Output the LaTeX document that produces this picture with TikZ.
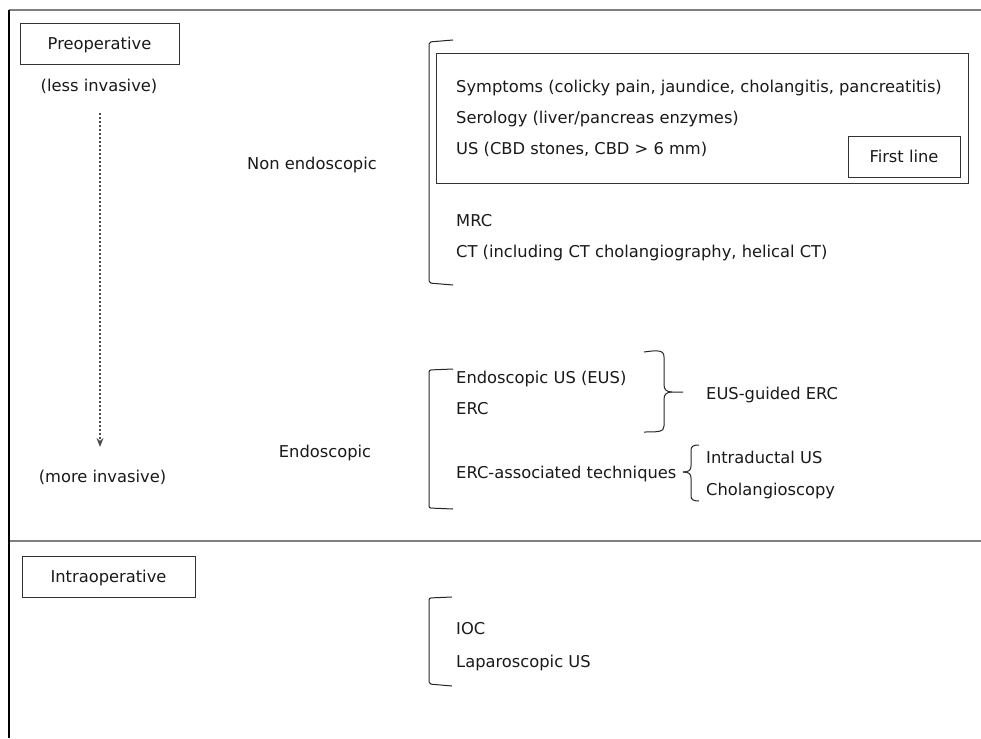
\documentclass[tikz,border=0pt]{standalone}
\usepackage{fontspec}
\setmainfont{DejaVu Sans}
\usetikzlibrary{arrows.meta}
\begin{document}
\begin{tikzpicture}[x=1pt,y=-1pt,
  every node/.style={font=\fontsize{16.3}{19}\selectfont, text=black!90},
  lbl/.style={anchor=west, inner sep=0pt, text height=12pt, text depth=0pt},
  ctr/.style={inner sep=0pt, text height=12pt, text depth=0pt},
  tag/.style={draw=black!80, line width=0.9pt, inner sep=0pt, text height=12pt, text depth=0pt},
  frameline/.style={draw=black!50, line width=1.6pt},
  brk/.style={draw=black!85, line width=1pt, rounded corners=2pt},
  brc/.style={draw=black!85, line width=1pt},
]
\useasboundingbox (0,0) rectangle (981,738);

% frame
\coordinate (ftl) at (9,10);
\coordinate (ftr) at (981,10);
\coordinate (fbl) at (9,738);
\coordinate (fml) at (9,541);
\coordinate (fmr) at (981,541);
\draw[frameline] (ftl) -- (ftr);
\draw[frameline] (fml) -- (fmr);
\draw[draw=black, line width=1.6pt] (ftl) -- (fbl);

% left column
\node[tag, minimum width=159pt, minimum height=41pt] (pre) at (99.5,43.5) {Preoperative};
\node[ctr] (less) at (99,86) {(less invasive)};
\node[ctr] (more) at (102.5,476) {(more invasive)};
\coordinate (a1) at (100,113);
\coordinate (a2) at (100,447);
\draw[draw=black!70, line width=1.3pt, dash pattern=on 2pt off 2pt, -{Stealth[length=9pt,width=7pt]}] (a1) -- (a2);
\node[tag, minimum width=173pt, minimum height=41pt] (intra) at (108.5,576.5) {Intraoperative};

% categories
\node[ctr] (nonendo) at (312,163) {Non endoscopic};
\node[ctr] (endo) at (325,451) {Endoscopic};

% brackets
\draw[brk] (453,40) -- (429,42) -- (429,283) -- (453,285);
\draw[brk] (453,369) -- (429,370) -- (429,508) -- (453,509);
\draw[brk] (452,597) -- (429,598) -- (429,684) -- (452,686);

% first line box
\node[draw=black!80, line width=0.9pt, minimum width=532pt, minimum height=130pt, inner sep=0pt] (flbox) at (702,118) {};
\node[tag, minimum width=112pt, minimum height=41pt] (first) at (904,156.5) {First line};

% items
\node[lbl] (sym) at (456,87) {Symptoms (colicky pain, jaundice, cholangitis, pancreatitis)};
\node[lbl] (ser) at (456,118) {Serology (liver/pancreas enzymes)};
\node[lbl] (us) at (456,149) {US (CBD stones, CBD > 6 mm)};
\node[lbl] (mrc) at (456,220) {MRC};
\node[lbl] (ct) at (456,251) {CT (including CT cholangiography, helical CT)};

\node[lbl] (eus) at (456,377) {Endoscopic US (EUS)};
\node[lbl] (erc) at (456,408) {ERC};
\node[lbl] (ercat) at (456,472) {ERC-associated techniques};
\node[lbl] (eusg) at (706,393) {EUS-guided ERC};
\node[lbl] (idus) at (706,457) {Intraductal US};
\node[lbl] (chol) at (706,489) {Cholangioscopy};

\node[lbl] (ioc) at (456,628) {IOC};
\node[lbl] (lap) at (456,661) {Laparoscopic US};

% right brace (EUS-guided ERC)
\draw[brc] (644,352) .. controls (658,350) and (664,350) .. (664,357)
  -- (664,385) .. controls (664,390) and (667,392) .. (672,392) -- (683,392);
\draw[brc] (672,392) .. controls (667,392) and (664,394) .. (664,399)
  -- (664,426) .. controls (664,432) and (658,432) .. (644,432);

% small left brace
\draw[brc] (699,445) .. controls (694,445) and (691,446) .. (691,450)
  -- (691,466) .. controls (691,470) and (689,472) .. (683,472);
\draw[brc] (683,472) .. controls (689,472) and (691,474) .. (691,478)
  -- (691,496) .. controls (691,500) and (694,501) .. (699,501);
\end{tikzpicture}
\end{document}
